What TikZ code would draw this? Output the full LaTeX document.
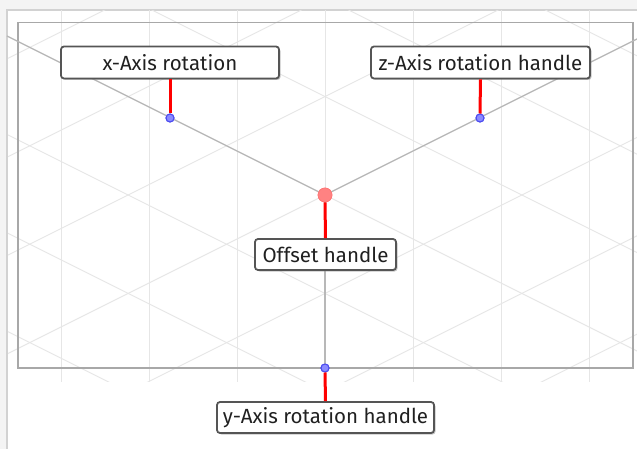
\documentclass[tikz,border=0pt]{standalone}
\usepackage{fontspec}
\setmainfont{Fira Sans}
\usetikzlibrary{shadows}
\definecolor{bgout}{HTML}{F4F4F4}
\definecolor{framecol}{HTML}{D2D2D2}
\definecolor{innercol}{HTML}{A8A8A8}
\definecolor{gridcol}{HTML}{E6E6E6}
\definecolor{axiscol}{HTML}{B8B8B8}
\definecolor{boxborder}{HTML}{555555}
\definecolor{txtcol}{HTML}{202020}
\definecolor{bluefill}{HTML}{8A8AFF}
\definecolor{blueline}{HTML}{4A4AF0}
\definecolor{redfill}{HTML}{FF8282}
\definecolor{redline}{HTML}{FF0000}
\tikzset{
  labelbox/.style={draw=boxborder, line width=1.8pt, fill=white, rounded corners=3pt,
    text=txtcol, font=\fontsize{20.5}{24}\selectfont, inner sep=0pt, minimum height=32pt,
    drop shadow={shadow xshift=1.5pt, shadow yshift=-1.5pt, fill=black!45, opacity=0.5}},
  handlept/.style={circle, fill=bluefill, draw=blueline, line width=1pt, minimum size=8pt, inner sep=0pt},
  offsetpt/.style={circle, fill=redfill, draw=redfill!90!red, line width=0.6pt, minimum size=14pt, inner sep=0pt},
  redconn/.style={draw=redline, line width=3pt},
  axisline/.style={draw=axiscol, line width=1.3pt},
  gridline/.style={draw=gridcol, line width=0.9pt}
}
\begin{document}
\begin{tikzpicture}[x=1pt, y=-1pt]
  \useasboundingbox (0,0) rectangle (637,449);
  \fill[bgout] (0,0) rectangle (637,449);
  \fill[white] (7,10) rectangle (645,460);
  \draw[framecol, line width=1.8pt] (7,460) -- (7,10) -- (645,10);
  % grid
  \begin{scope}
    \clip (8,11) rectangle (637,381);
    \foreach \k in {0,...,6} {
      \draw[gridline] ({61+88*\k},0) -- ({61+88*\k},449);
    }
    \foreach \k in {-4,...,4} {
      \draw[gridline] (0,{32.5+98.4*\k}) -- (640,{32.5+98.4*\k+320});
      \draw[gridline] (0,{357.5+98.4*\k}) -- (640,{357.5+98.4*\k-320});
    }
  \end{scope}
  % inner rectangle
  \draw[innercol, line width=1.6pt] (18,22.5) rectangle (633,368);
  % points
  \coordinate (xend) at (7,36);
  \coordinate (zend) at (640,37.5);
  \node[offsetpt] (off) at (325,195) {};
  \node[handlept] (xpt) at (170,118) {};
  \node[handlept] (zpt) at (480,118) {};
  \node[handlept] (ypt) at (325,368) {};
  % axes (drawn under points)
  \path[axisline] (xend) -- (off.center);
  \path[axisline] (off.center) -- (zend);
  \path[axisline] (off.center) -- (ypt.center);
  % redraw points on top
  \node[offsetpt] at (off) {};
  \node[handlept] at (xpt) {};
  \node[handlept] at (zpt) {};
  \node[handlept] at (ypt) {};
  % labels
  \node[labelbox, minimum width=218pt] (xlab) at (170,62.5) {x-Axis rotation};
  \node[labelbox, minimum width=219pt] (zlab) at (480.5,62.5) {z-Axis rotation handle};
  \node[labelbox, minimum width=141pt, minimum height=31pt] (olab) at (325.5,254.5) {Offset handle};
  \node[labelbox, minimum width=217pt, minimum height=31pt] (ylab) at (325.5,417.5) {y-Axis rotation handle};
  % red connectors
  \draw[redconn] (xlab.south) -- (xpt.north);
  \draw[redconn] (zlab.south) -- (zpt.north);
  \draw[redconn] (off.south) -- (olab.north);
  \draw[redconn] (ypt.south) -- (ylab.north);
\end{tikzpicture}
\end{document}
